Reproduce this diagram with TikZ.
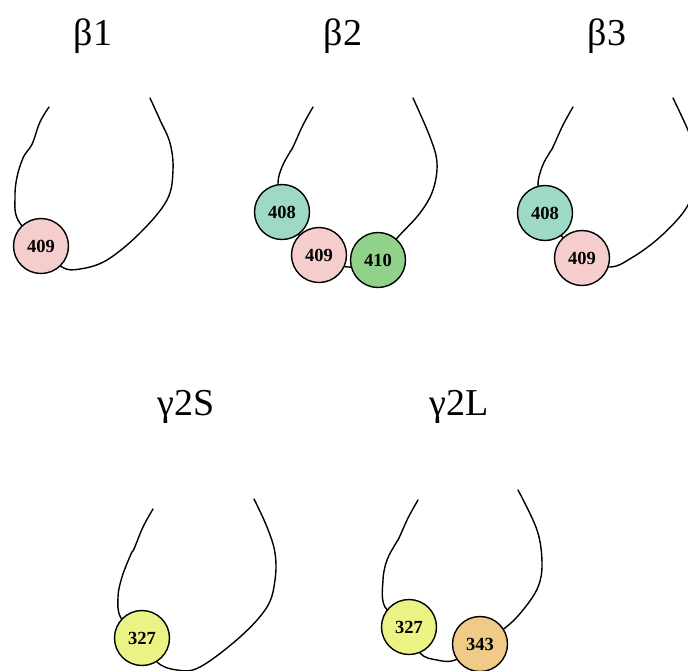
\documentclass[tikz,border=0pt]{standalone}
\usepackage{fontspec}
\setmainfont{Liberation Serif}
\definecolor{pinkc}{RGB}{246,205,205}
\definecolor{tealc}{RGB}{158,217,200}
\definecolor{greenc}{RGB}{145,209,138}
\definecolor{yellowc}{RGB}{236,243,133}
\definecolor{orangec}{RGB}{240,203,136}
\begin{document}
\begin{tikzpicture}[x=1pt,y=-1pt,
  backbone/.style={line width=1.4pt, black, line cap=round},
  res/.style={circle,draw=black,line width=1.4pt,minimum size=55pt,inner sep=0pt,
    font=\fontsize{18.5}{18.5}\selectfont\bfseries},
  title/.style={anchor=base,inner sep=0pt,font=\fontsize{38}{38}\selectfont}]
\useasboundingbox (0,0) rectangle (688,670);
\clip (0,0) rectangle (688,670);
% titles
\node[title] (tb1) at (93,45) {β1};
\node[title] (tb2) at (343,45) {β2};
\node[title] (tb3) at (607,45) {β3};
\node[title] (tg2s) at (186,415) {γ2S};
\node[title] (tg2l) at (459,415) {γ2L};
% beta1
\draw[backbone] plot[smooth,tension=0.6] coordinates {(49,107) (40,122) (33,142) (29,149) (23,158) (17,177) (15,197) (18,220) (41,246) (62,267) (80,269) (107,260) (140,233) (167,200) (173,170) (170,143) (160,120) (150,98)};
\node[res,fill=pinkc] (b1r409) at (41,246) {409};
% beta2
\draw[backbone] plot[smooth,tension=0.6] coordinates {(313,107) (303,125) (293,147) (290,152) (282,167) (278,184) (282,212) (319,255) (348,267) (378,260) (398,237) (420,213) (433,190) (437,163) (430,137) (413,98)};
\node[res,fill=tealc] (b2r408) at (282,212) {408};
\node[res,fill=pinkc] (b2r409) at (319,255) {409};
\node[res,fill=greenc] (b2r410) at (378,260) {410};
% beta3
\draw[backbone] plot[smooth,tension=0.6] coordinates {(573,107) (563,125) (553,147) (550,152) (542,167) (538,187) (545,213) (582,258) (610,267) (633,257) (660,237) (685,210) (695,185) (697,160) (690,135) (673,98)};
\node[res,fill=tealc] (b3r408) at (545,213) {408};
\node[res,fill=pinkc] (b3r409) at (582,258) {409};
% gamma2S
\draw[backbone] plot[smooth,tension=0.6] coordinates {(153,509) (143,527) (134,549) (131,554) (122,577) (118,597) (121,618) (142,638) (157,662) (177,670) (200,667) (240,637) (267,607) (275,580) (275,553) (267,527) (254,499)};
\node[res,fill=yellowc] (g2sr327) at (142,638) {327};
% gamma2L
\draw[backbone] plot[smooth,tension=0.6] coordinates {(418,500) (408,518) (399,538) (396,543) (387,560) (383,580) (385,607) (409,627) (420,653) (437,660) (455,660) (480,644) (505,628) (523,610) (538,587) (542,563) (537,530) (518,490)};
\node[res,fill=yellowc] (g2lr327) at (409,627) {327};
\node[res,fill=orangec] (g2lr343) at (480,644) {343};
\end{tikzpicture}
\end{document}
